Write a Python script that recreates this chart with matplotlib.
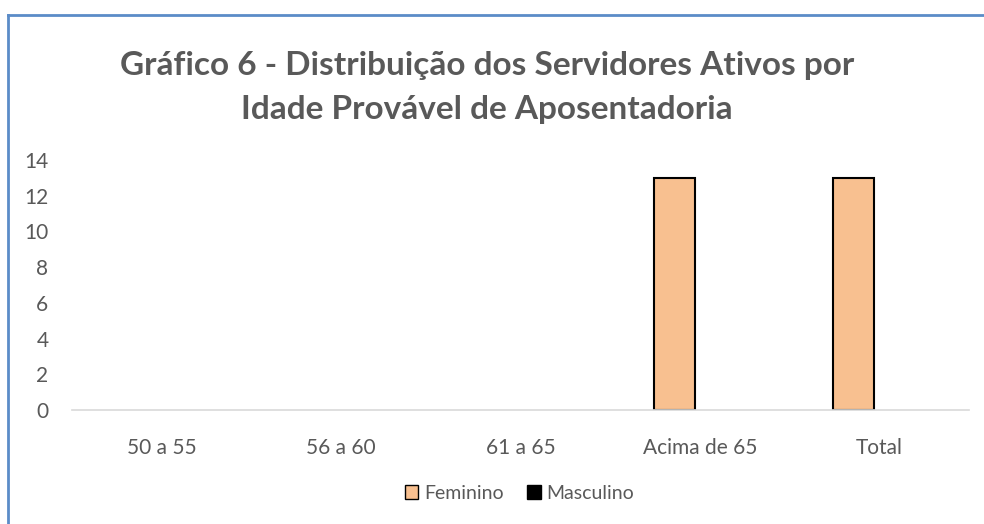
import numpy as np
import matplotlib.pyplot as plt
from matplotlib.lines import Line2D
from matplotlib.patches import Patch

categories = ['50 a 55', '56 a 60', '61 a 65', 'Acima de 65', 'Total']
feminino = [0, 0, 0, 13, 13]
masculino = [0, 0, 0, 0, 0]
y_ticks = [0, 2, 4, 6, 8, 10, 12, 14]

plt.rcParams['font.family'] = ['Lato', 'DejaVu Sans']
grey = '#595959'
peach = '#F8C090'

fig = plt.figure(figsize=(9.84, 5.24), dpi=100)
ax = fig.add_axes([0.0732, 0.2176, 0.9116, 0.4771])

x = np.arange(len(categories))
w = 0.228
# zero-height bars are invisible in the original, so no edge for them
fem_lw = [1.5 if v > 0 else 0 for v in feminino]
ax.bar(x - 0.142, feminino, w, color=peach, edgecolor='black', linewidth=fem_lw,
       label='Feminino', zorder=3)
ax.bar(x + 0.142, masculino, w, color='black', linewidth=0,
       label='Masculino', zorder=3)

ax.set_xlim(-0.5, len(categories) - 0.5)
ax.set_ylim(0, 14)
ax.set_yticks(y_ticks)
ax.set_xticks(x)
ax.set_xticklabels(categories)
ax.tick_params(axis='both', length=0, labelsize=15, labelcolor=grey)
ax.tick_params(axis='y', pad=17)
ax.tick_params(axis='x', pad=20)
for side in ['top', 'right', 'left']:
    ax.spines[side].set_visible(False)
ax.spines['bottom'].set_color('#D9D9D9')
ax.spines['bottom'].set_linewidth(1.2)
ax.spines['bottom'].set_zorder(4)

fig.text(0.495, 0.833, 'Gráfico 6 - Distribuição dos Servidores Ativos por\nIdade Provável de Aposentadoria',
         ha='center', va='center', fontsize=24, fontweight='bold', color=grey,
         linespacing=1.65)

handles = [Patch(facecolor=peach, edgecolor='black', linewidth=1),
           Patch(facecolor='black', edgecolor='black')]
fig.legend(handles, ['Feminino', 'Masculino'], loc='center', bbox_to_anchor=(0.528, 0.058),
           ncol=2, frameon=False, fontsize=14, labelcolor=grey,
           handlelength=0.7, handleheight=0.7, handletextpad=0.3, columnspacing=1.2)

# chart border (cropped on the right and bottom)
border = '#5B8CC8'
fig.add_artist(Line2D([8 / 984, 1.0], [1 - 15 / 524, 1 - 15 / 524], color=border, lw=2))
fig.add_artist(Line2D([8 / 984, 8 / 984], [0.0, 1 - 15 / 524], color=border, lw=2))

fig.savefig('out.png', dpi=100)
